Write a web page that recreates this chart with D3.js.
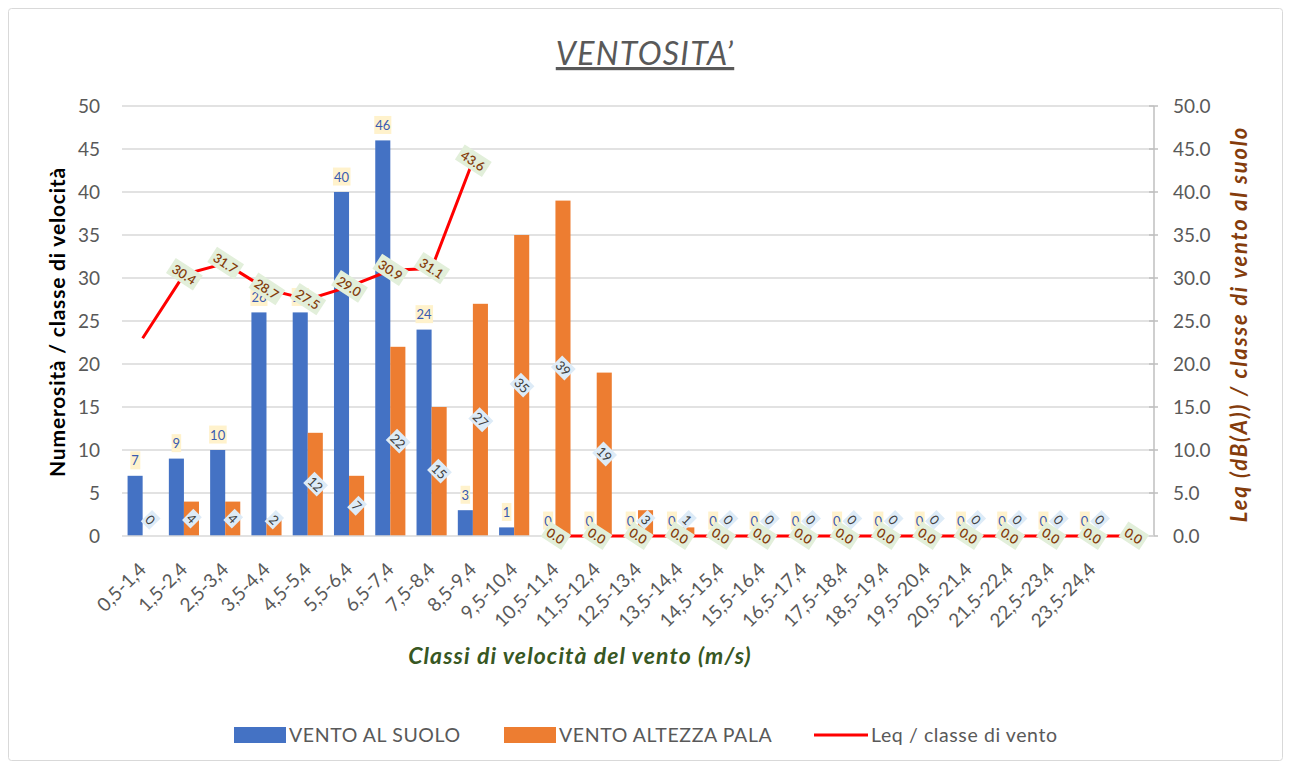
<!DOCTYPE html>
<html><head><meta charset="utf-8">
<script src="https://cdn.jsdelivr.net/npm/d3@7"></script>
<style>
body{margin:0;background:#fff;}
svg{display:block;font-family:Lato,"Open Sans",sans-serif;}
</style></head>
<body>
<svg id="c" width="1290" height="767"></svg>
<script>
// ---- data ----
const categories = ["0,5-1,4","1,5-2,4","2,5-3,4","3,5-4,4","4,5-5,4","5,5-6,4","6,5-7,4","7,5-8,4","8,5-9,4","9,5-10,4","10,5-11,4","11,5-12,4","12,5-13,4","13,5-14,4","14,5-15,4","15,5-16,4","16,5-17,4","17,5-18,4","18,5-19,4","19,5-20,4","20,5-21,4","21,5-22,4","22,5-23,4","23,5-24,4",""];
const ventoSuolo = [7,9,10,26,26,40,46,24,3,1,0,0,0,0,0,0,0,0,0,0,0,0,0,0];
const ventoPala  = [0,4,4,2,12,7,22,15,27,35,39,19,3,1,0,0,0,0,0,0,0,0,0,0];
const leq = [23.0,30.4,31.7,28.7,27.5,29.0,30.9,31.1,43.6,null,0,0,0,0,0,0,0,0,0,0,0,0,0,0,0];
const leqLabelShown = [false].concat(d3.range(24).map(()=>true));
const yTicks = [0,5,10,15,20,25,30,35,40,45,50];
const seriesNames = ["VENTO AL SUOLO","VENTO ALTEZZA PALA","Leq / classe di vento"];
const title = "VENTOSITA’";
const xTitle = "Classi di velocità  del vento (m/s)";
const yTitle = "Numerosità / classe  di velocità";
const y2Title = "Leq (dB(A)) / classe di vento al suolo";

const BLUE="#4472C4", ORANGE="#ED7D31", RED="#FF0000";
const svg = d3.select("#c");

// frame
svg.append("rect").attr("x",8.5).attr("y",8.5).attr("width",1274).attr("height",752)
  .attr("fill","#fff").attr("stroke","#d9d9d9").attr("rx",3);

const x = d3.scaleBand().domain(categories).range([122,1154]).paddingInner(0.27).paddingOuter(0.135);
const xs = d3.scaleBand().domain(["s","p"]).range([0,x.bandwidth()]);
const y = d3.scaleLinear().domain([0,50]).range([536,106]);
const y2 = d3.scaleLinear().domain([0,50]).range([536,106]);
const cx = i => x(categories[i]) + x.bandwidth()/2;

// gridlines
svg.append("g").selectAll("line").data(yTicks.filter(d=>d>0)).join("line")
  .attr("x1",122).attr("x2",1154).attr("y1",d=>y(d)).attr("y2",d=>y(d))
  .attr("stroke","#d9d9d9").attr("stroke-width",1.5);

// left tick labels
svg.append("g").selectAll("text").data(yTicks).join("text")
  .attr("x",100).attr("y",d=>y(d)).attr("dy","0.35em").attr("text-anchor","end")
  .attr("font-size",19).attr("fill","#595959").text(d=>d);

// right axis
const ra = svg.append("g");
ra.append("line").attr("x1",1154).attr("x2",1154).attr("y1",y2(50)).attr("y2",y2(0)).attr("stroke","#bfbfbf").attr("stroke-width",1.5);
ra.selectAll("line.t").data(yTicks).join("line").attr("class","t")
  .attr("x1",1149).attr("x2",1158).attr("y1",d=>y2(d)).attr("y2",d=>y2(d)).attr("stroke","#bfbfbf").attr("stroke-width",1.5);
ra.selectAll("text").data(yTicks).join("text")
  .attr("x",1173).attr("y",d=>y2(d)).attr("dy","0.35em")
  .attr("font-size",19).attr("fill","#595959").text(d=>d.toFixed(1));

// bars
svg.append("g").selectAll("rect").data(ventoSuolo).join("rect")
  .attr("x",(d,i)=>x(categories[i])+xs("s")).attr("width",xs.bandwidth())
  .attr("y",d=>y(d)).attr("height",d=>y(0)-y(d)).attr("fill",BLUE);
svg.append("g").selectAll("rect").data(ventoPala).join("rect")
  .attr("x",(d,i)=>x(categories[i])+xs("p")).attr("width",xs.bandwidth())
  .attr("y",d=>y(d)).attr("height",d=>y(0)-y(d)).attr("fill",ORANGE);

// x axis line
svg.append("line").attr("x1",122).attr("x2",1154).attr("y1",y(0)).attr("y2",y(0)).attr("stroke","#d9d9d9").attr("stroke-width",1.5);

// line
const lineGen = d3.line().defined(d=>d!=null).x((d,i)=>cx(i)).y(d=>y2(d));
svg.append("path").datum(leq).attr("d",lineGen).attr("fill","none").attr("stroke",RED).attr("stroke-width",3);

// label helper
function label(g, tx, ty, rot, txt, fill, bg, fs, padX, padY, weight){
  const gg = g.append("g").attr("transform",`translate(${tx},${ty}) rotate(${rot})`);
  const r = gg.append("rect").attr("fill",bg);
  const t = gg.append("text").attr("text-anchor","middle").attr("dy","0.35em")
    .attr("font-size",fs).attr("fill",fill).attr("font-weight",weight||400).text(txt);
  const b = t.node().getBBox();
  r.attr("x",b.x-padX).attr("y",b.y-padY).attr("width",b.width+2*padX).attr("height",b.height+2*padY);
}
const gl = svg.append("g");
ventoSuolo.forEach((v,i)=>{
  label(gl, x(categories[i])+xs("s")+xs.bandwidth()/2, y(v)-15, 0, v, "#3a5bb0", "#FFF2CC", 13, 1, 1);
});
ventoPala.forEach((v,i)=>{
  const py = Math.min((y(v)+y(0))/2, y(0)-16);
  label(gl, x(categories[i])+xs("p")+xs.bandwidth()/2, py, 45, v, "#404040", "#DDEBF7", 13, 2, 0);
});
leq.forEach((v,i)=>{
  if(v==null || !leqLabelShown[i]) return;
  label(gl, cx(i), y2(v), 33, v.toFixed(1), "#843C0C", "#E2EFDA", 13, 3, 1, 600);
});

// x tick labels
svg.append("g").selectAll("text").data(categories).join("text")
  .attr("transform",(d,i)=>`translate(${cx(i)},${566}) rotate(-45)`)
  .attr("text-anchor","end").attr("dy","0.35em")
  .attr("font-size",19).attr("fill","#595959").text(d=>d);

// titles
svg.append("text").attr("x",645).attr("y",65).attr("text-anchor","middle")
  .attr("font-size",32).attr("letter-spacing",1.3).attr("font-style","italic").attr("fill","#595959")
  .attr("text-decoration","underline").text(title);
svg.append("text").attr("x",580).attr("y",664).attr("text-anchor","middle")
  .attr("font-size",23).attr("letter-spacing",1.1).attr("font-style","italic").attr("font-weight",700).attr("fill","#385723").text(xTitle);
svg.append("text").attr("transform","translate(65,322) rotate(-90)").attr("text-anchor","middle")
  .attr("font-size",21).attr("letter-spacing",0.8).attr("font-weight",700).attr("fill","#000").text(yTitle);
svg.append("text").attr("transform","translate(1247,324) rotate(-90)").attr("text-anchor","middle")
  .attr("font-size",22).attr("letter-spacing",1.8).attr("font-style","italic").attr("font-weight",700).attr("fill","#843C0C").text(y2Title);

// legend
const lg = svg.append("g").attr("font-size",19.5).attr("letter-spacing",0.6).attr("fill","#595959");
const legX = [234,504,814];
seriesNames.forEach((n,i)=>{
  if(i<2){
    lg.append("rect").attr("x",legX[i]).attr("y",727).attr("width",52).attr("height",16).attr("fill",i==0?BLUE:ORANGE);
  } else {
    lg.append("line").attr("x1",legX[i]).attr("x2",legX[i]+54).attr("y1",735).attr("y2",735).attr("stroke",RED).attr("stroke-width",3);
  }
  lg.append("text").attr("x",legX[i]+(i<2?55:57)).attr("y",735).attr("dy","0.35em").attr("fill","#595959").text(n);
});
</script>
</body></html>
